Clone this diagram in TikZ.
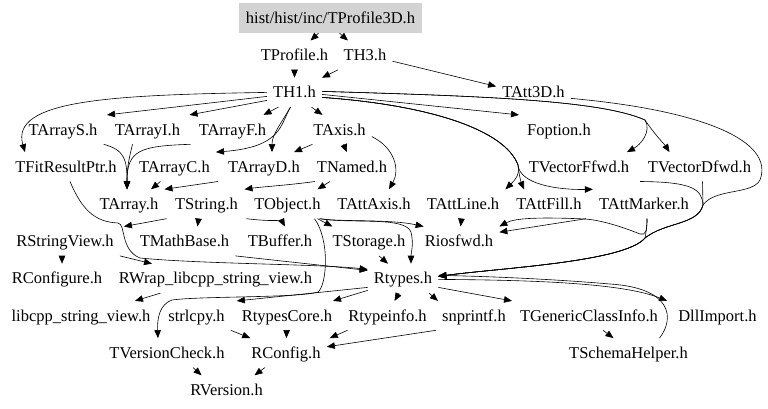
\documentclass[tikz,border=0pt]{standalone}
\usepackage{fontspec}
\setmainfont{Liberation Serif}
\usetikzlibrary{arrows.meta}
\definecolor{rootgray}{RGB}{211,211,211}
\newcommand{\nfont}{\fontsize{16.5pt}{19pt}\selectfont}
\begin{document}
\begin{tikzpicture}[x=1pt,y=-1pt,
  nd/.style={font=\nfont, inner xsep=6pt, inner ysep=9pt, text height=11pt, text depth=0pt, anchor=center},
  rootnd/.style={nd, fill=rootgray, inner xsep=6.5pt, inner ysep=9.5pt},
  edge/.style={-{Triangle[length=8pt,width=6.5pt]}, line width=0.6pt, black}]
\useasboundingbox (0,0) rectangle (768,409);
% nodes
\node[rootnd] (root) at (330.5,18) {hist/hist/inc/TProfile3D.h};
\node[nd] (tprofile) at (294.5,55.2) {TProfile.h};
\node[nd] (th3) at (365,55.2) {TH3.h};
\node[nd] (th1) at (294.5,92.4) {TH1.h};
\node[nd] (tatt3d) at (533.5,92.4) {TAtt3D.h};
\node[nd] (tarrays) at (63,129.6) {TArrayS.h};
\node[nd] (tarrayi) at (147.5,129.6) {TArrayI.h};
\node[nd] (tarrayf) at (232.5,129.6) {TArrayF.h};
\node[nd] (taxis) at (339.5,129.6) {TAxis.h};
\node[nd] (foption) at (559,129.6) {Foption.h};
\node[nd] (tfit) at (66,166.8) {TFitResultPtr.h};
\node[nd] (tarrayc) at (174.5,166.8) {TArrayC.h};
\node[nd] (tarrayd) at (264,166.8) {TArrayD.h};
\node[nd] (tnamed) at (352,166.8) {TNamed.h};
\node[nd] (tvf) at (579,166.8) {TVectorFfwd.h};
\node[nd] (tvd) at (699.5,166.8) {TVectorDfwd.h};
\node[nd] (tarray) at (129,204) {TArray.h};
\node[nd] (tstring) at (206.5,204) {TString.h};
\node[nd] (tobject) at (287.5,204) {TObject.h};
\node[nd] (tattaxis) at (374,204) {TAttAxis.h};
\node[nd] (tattline) at (463,204) {TAttLine.h};
\node[nd] (tattfill) at (549,204) {TAttFill.h};
\node[nd] (tattmarker) at (644,204) {TAttMarker.h};
\node[nd] (rstringview) at (65,241.2) {RStringView.h};
\node[nd] (tmathbase) at (184.5,241.2) {TMathBase.h};
\node[nd] (tbuffer) at (280,241.2) {TBuffer.h};
\node[nd] (tstorage) at (369,241.2) {TStorage.h};
\node[nd] (riosfwd) at (459,241.2) {Riosfwd.h};
\node[nd] (rconfigure) at (57,278.4) {RConfigure.h};
\node[nd] (rwrap) at (215.5,278.4) {RWrap\_libcpp\_string\_view.h};
\node[nd] (rtypes) at (403,278.4) {Rtypes.h};
\node[nd] (libcpp) at (81,315.6) {libcpp\_string\_view.h};
\node[nd] (strlcpy) at (196.5,315.6) {strlcpy.h};
\node[nd] (rtypescore) at (287,315.6) {RtypesCore.h};
\node[nd] (rtypeinfo) at (387.5,315.6) {Rtypeinfo.h};
\node[nd] (snprintf) at (474,315.6) {snprintf.h};
\node[nd] (tgci) at (589,315.6) {TGenericClassInfo.h};
\node[nd] (dllimport) at (717.5,315.6) {DllImport.h};
\node[nd] (tversioncheck) at (167,352.8) {TVersionCheck.h};
\node[nd] (rconfig) at (286,352.8) {RConfig.h};
\node[nd] (tsh) at (628.5,352.8) {TSchemaHelper.h};
\node[nd] (rversion) at (226.5,390) {RVersion.h};
% edges
\draw[edge] ([xshift=-12pt]root.south) -- ([xshift=16pt]tprofile.north);
\draw[edge] ([xshift=9pt]root.south) -- ([xshift=-17pt]th3.north);
\draw[edge] (tprofile) -- (th1);
\draw[edge] ([xshift=-27pt]th3.south) -- (th1.north east);
\draw[edge] ([yshift=-6pt]th3.east) -- ([yshift=6pt]tatt3d.west);
\draw[edge] (th1.west) .. controls (110,95) and (10,100) .. ([xshift=-41pt]tfit.north);
\draw[edge] ([yshift=-4pt]th1.west) -- ([xshift=44pt]tarrays.north);
\draw[edge] ([yshift=-8pt]th1.west) -- ([xshift=42pt]tarrayi.north);
\draw[edge] ([xshift=-16pt]th1.south) -- ([xshift=31pt]tarrayf.north);
\draw[edge] ([xshift=-4pt]th1.south) .. controls (280,125) and (272,135) .. ([xshift=8pt]tarrayd.north);
\draw[edge] ([xshift=-4pt]th1.south) .. controls (280,125) and (282,147) .. (tarrayc.north east);
\draw[edge] ([xshift=17pt]th1.south) -- ([xshift=-17pt]taxis.north);
\draw[edge] ([yshift=-2pt]th1.east) -- ([xshift=-40pt]foption.north);
\draw[edge] ([yshift=1pt]th1.east) .. controls (480,96) and (600,100) .. (645,120) .. controls (652,132) and (640,145) .. ([xshift=48pt]tvf.north);
\draw[edge] ([yshift=1pt]th1.east) .. controls (480,96) and (600,100) .. (645,120) .. controls (655,135) and (665,145) .. ([xshift=-30pt]tvd.north);
\draw[edge] ([yshift=-5pt]th1.east) .. controls (430,105) and (505,130) .. (518,165) .. controls (520,175) and (515,180) .. (tattline.north east);
\draw[edge] ([yshift=-5pt]th1.east) .. controls (430,105) and (505,130) .. (518,165) .. controls (519,175) and (521,182) .. ([xshift=-25pt]tattfill.north);
\draw[edge] ([yshift=-5pt]th1.east) .. controls (430,105) and (505,130) .. (518,165) .. controls (520,185) and (560,190) .. (tattmarker.north west);
% bundle into Rtypes from the right
\draw[edge] ([yshift=-6pt]tatt3d.east) .. controls (700,110) and (775,140) .. (760,180) .. controls (752,195) and (715,188) .. (703,205) .. controls (698,225) and (665,222) .. (645,238) .. controls (625,262) and (500,268) .. ([yshift=2pt]rtypes.east);
\draw[edge] ([xshift=61pt]tvf.south) .. controls (690,182) and (702,188) .. (703,205) .. controls (698,225) and (665,222) .. (645,238) .. controls (625,262) and (500,268) .. ([yshift=2pt]rtypes.east);
\draw[edge] ([xshift=3pt]tvd.south) -- (703,205) .. controls (698,225) and (665,222) .. (645,238) .. controls (625,262) and (500,268) .. ([yshift=2pt]rtypes.east);
\draw[edge] ([xshift=3pt]tattmarker.south) .. controls (647,228) and (646,232) .. (645,238) .. controls (625,262) and (500,268) .. ([yshift=2pt]rtypes.east);
\draw[edge] ([xshift=3pt]tattmarker.south) .. controls (647,230) and (646,236) .. (640,234) .. controls (620,226) and (600,220) .. (585,219) .. controls (540,217) and (515,218) .. (riosfwd.north east);
\draw[edge] ([xshift=37pt]tattfill.south) -- ([yshift=9pt]riosfwd.east);
\draw[edge] (tattline) -- (riosfwd);
% TArray family
\draw[edge] (tarrays.south east) .. controls (125,150) and (127,160) .. ([xshift=-2pt]tarray.north);
\draw[edge] ([xshift=-15pt]tarrayi.south) .. controls (130,155) and (127,165) .. ([xshift=-2pt]tarray.north);
\draw[edge] ([xshift=-42pt]tarrayf.south) .. controls (140,146) and (127,150) .. ([xshift=-2pt]tarray.north);
\draw[edge] ([xshift=-14pt]tarrayc.south) -- ([xshift=22pt]tarray.north);
\draw[edge] ([xshift=-46pt]tarrayd.south) -- (tarray.north east);
% TAxis
\draw[edge] ([xshift=-27pt]taxis.south) -- ([xshift=30pt]tarrayd.north);
\draw[edge] ([xshift=4pt]taxis.south) -- ([xshift=-5pt]tnamed.north);
\draw[edge] ([yshift=-7pt]taxis.east) .. controls (395,148) and (400,170) .. ([xshift=15pt]tattaxis.north);
% TNamed
\draw[edge] ([xshift=-37pt]tnamed.south) .. controls (290,185) and (260,187) .. ([xshift=38pt]tstring.north);
\draw[edge] ([xshift=-22pt]tnamed.south) -- ([xshift=30pt]tobject.north);
% TString
\draw[edge] ([xshift=-40pt]tstring.south) -- ([xshift=4pt]rstringview.north east);
\draw[edge] ([xshift=-8pt]tstring.south) -- ([xshift=13pt]tmathbase.north);
\draw[edge] ([xshift=40pt]tstring.south) .. controls (265,221) and (282,221) .. ([xshift=5pt]tbuffer.north);
% TObject
\draw[edge] ([xshift=30pt]tobject.south) -- ([xshift=6pt]tstorage.north west);
\draw[edge] ([xshift=32pt]tobject.south) .. controls (340,222) and (390,219) .. ([xshift=5pt]riosfwd.north west);
\draw[edge] ([xshift=33pt]tobject.south) .. controls (350,224) and (405,216) .. (411,232) .. controls (414,245) and (411,252) .. ([xshift=8pt]rtypes.north);
\draw[edge] ([xshift=27pt]tobject.south) .. controls (330,240) and (327,285) .. (318,292) .. controls (300,298) and (200,296) .. (172,300) .. controls (160,304) and (157,318) .. ([xshift=-9pt]tversioncheck.north);
% into Rtypes
\draw[edge] ([xshift=10pt]tstorage.south) -- ([xshift=-15pt]rtypes.north);
\draw[edge] (tmathbase.south east) -- ([yshift=8pt]rtypes.west);
\draw[edge] ([xshift=4pt]tfit.south) .. controls (82,210) and (95,222) .. (118,223) .. controls (126,224) and (120,250) .. (140,258) .. controls (200,264) and (320,264) .. ([yshift=9pt]rtypes.west);
% RStringView
\draw[edge] ([xshift=-3pt]rstringview.south) -- ([xshift=5pt]rconfigure.north);
\draw[edge] (rstringview.south east) -- ([xshift=-63.5pt]rwrap.north);
\draw[edge] ([xshift=-55pt]rwrap.south) -- ([xshift=54pt]libcpp.north);
% Rtypes out
\draw[edge] ([yshift=-9pt]rtypes.west) -- ([xshift=6pt]strlcpy.north east);
\draw[edge] ([yshift=-12pt]rtypes.west) -- ([xshift=46pt]rtypescore.north);
\draw[edge] ([xshift=-4pt]rtypes.south) -- ([xshift=7pt]rtypeinfo.north);
\draw[edge] ([xshift=26pt]rtypes.south) -- ([xshift=-36pt]snprintf.north);
\draw[edge] ([yshift=-9pt]rtypes.east) -- ([xshift=-77pt]tgci.north);
\draw[edge] ([yshift=-1pt]rtypes.east) .. controls (520,280) and (620,282) .. ([xshift=-5pt]dllimport.north west);
\draw[edge] ([xshift=31pt]tsh.north) .. controls (675,318) and (672,288) .. (610,284) .. controls (540,278) and (470,276) .. ([yshift=3pt]rtypes.east);
\draw[edge] ([xshift=14pt]tgci.south) -- ([xshift=-15pt]tsh.north);
% RConfig
\draw[edge] (strlcpy.south east) -- ([xshift=5pt]rconfig.north west);
\draw[edge] (rtypescore) -- (rconfig);
\draw[edge] ([xshift=-40pt]rtypeinfo.south) -- ([xshift=3pt]rconfig.north east);
\draw[edge] (snprintf.south west) -- ([yshift=6pt]rconfig.east);
% RVersion
\draw[edge] ([xshift=26pt]tversioncheck.south) -- ([xshift=-25pt]rversion.north);
\draw[edge] ([xshift=-21pt]rconfig.south) -- ([xshift=28pt]rversion.north);
\end{tikzpicture}
\end{document}
